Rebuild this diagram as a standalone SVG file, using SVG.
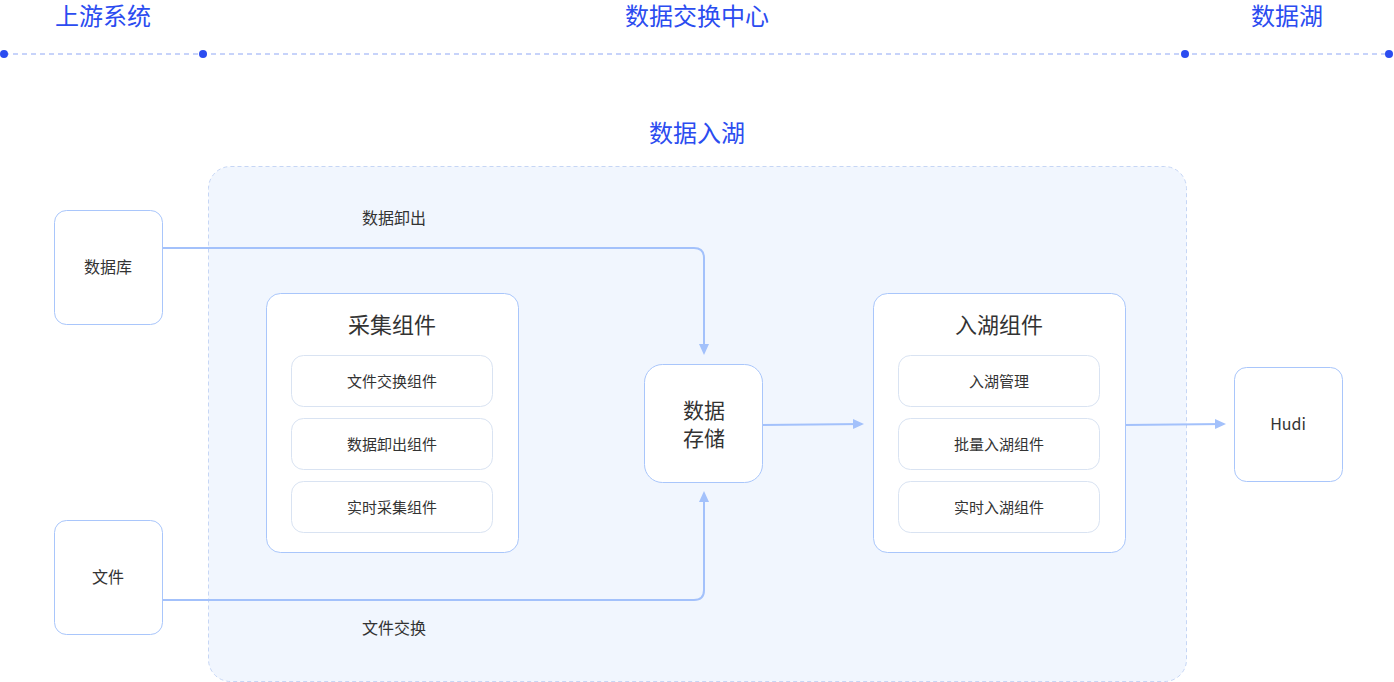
<svg xmlns="http://www.w3.org/2000/svg" width="1394" height="682" viewBox="0 0 1394 682">
<style>
.h{font-family:"Noto Sans CJK SC","Noto Sans",sans-serif;fill:#2b4cf0;font-size:24px;text-anchor:middle}
.t{font-family:"Noto Sans CJK SC","Noto Sans",sans-serif;fill:#333;text-anchor:middle}
.box{fill:#fff;stroke:#a9c6fb;stroke-width:1}
.sub{fill:#fff;stroke:#d9e3f2;stroke-width:1}
.ln{fill:none;stroke:#a3c1fb;stroke-width:2}
</style>
<defs><marker id="a" markerWidth="12" markerHeight="12" refX="9" refY="5" orient="auto" markerUnits="userSpaceOnUse"><path d="M0,0L11,5L0,10z" fill="#a3c1fb"/></marker></defs>
<g id="header">
<text class="h" x="103" y="25">上游系统</text>
<text class="h" x="697" y="25">数据交换中心</text>
<text class="h" x="1287" y="25">数据湖</text>
<line x1="4" y1="54" x2="1389" y2="54" stroke="#8fa7f5" stroke-dasharray="5,4" stroke-width="1"/>
<circle cx="4" cy="54" r="4" fill="#2b4cf0"/><circle cx="203" cy="54" r="4" fill="#2b4cf0"/>
<circle cx="1185" cy="54" r="4" fill="#2b4cf0"/><circle cx="1389" cy="54" r="4" fill="#2b4cf0"/>
</g>
<g id="lake-area">
<text class="h" x="697" y="142">数据入湖</text>
<rect x="208.500" y="166.500" width="978" height="515" rx="22" fill="#f1f6fe" stroke="#c6d6f5" stroke-dasharray="4,3"/>
</g>
<g id="connectors">
<path class="ln" d="M162,248H694Q704,248 704,258V353" marker-end="url(#a)"/>
<path class="ln" d="M162,600H694Q704,600 704,590V493" marker-end="url(#a)"/>
<path class="ln" d="M762,425L862,424" marker-end="url(#a)"/>
<path class="ln" d="M1125,425L1224,424" marker-end="url(#a)"/>
<text class="t" x="394" y="224" font-size="16">数据卸出</text>
<text class="t" x="394" y="634" font-size="16">文件交换</text>
</g>
<g id="db"><rect class="box" x="54.500" y="210.500" width="108" height="114" rx="12"/><text class="t" x="108" y="273" font-size="16">数据库</text></g>
<g id="file"><rect class="box" x="54.500" y="520.500" width="108" height="114" rx="12"/><text class="t" x="108" y="583" font-size="16">文件</text></g>
<g id="collect"><rect class="box" x="266.500" y="293.500" width="252" height="259" rx="14"/>
<text class="t" x="392" y="333" font-size="22">采集组件</text>
<rect class="sub" x="291.500" y="355.500" width="201" height="51" rx="12"/><text class="t" x="392" y="387" font-size="15">文件交换组件</text>
<rect class="sub" x="291.500" y="418.500" width="201" height="51" rx="12"/><text class="t" x="392" y="450" font-size="15">数据卸出组件</text>
<rect class="sub" x="291.500" y="481.500" width="201" height="51" rx="12"/><text class="t" x="392" y="513" font-size="15">实时采集组件</text></g>
<g id="store"><rect class="box" x="644.500" y="364.500" width="118" height="118" rx="18"/>
<text class="t" x="704" y="418" font-size="21">数据</text><text class="t" x="704" y="446" font-size="21">存储</text></g>
<g id="ingest"><rect class="box" x="873.500" y="293.500" width="252" height="259" rx="14"/>
<text class="t" x="999" y="333" font-size="22">入湖组件</text>
<rect class="sub" x="898.500" y="355.500" width="201" height="51" rx="12"/><text class="t" x="999" y="387" font-size="15">入湖管理</text>
<rect class="sub" x="898.500" y="418.500" width="201" height="51" rx="12"/><text class="t" x="999" y="450" font-size="15">批量入湖组件</text>
<rect class="sub" x="898.500" y="481.500" width="201" height="51" rx="12"/><text class="t" x="999" y="513" font-size="15">实时入湖组件</text></g>
<g id="hudi"><rect class="box" x="1234.500" y="367.500" width="108" height="114" rx="12"/><text class="t" x="1288" y="430" font-size="16">Hudi</text></g>
</svg>
